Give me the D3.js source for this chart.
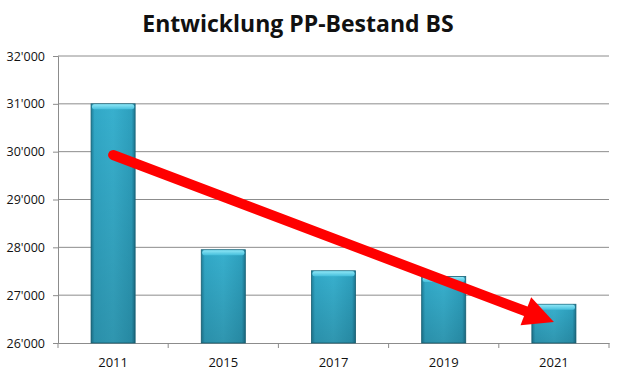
<!DOCTYPE html>
<html>
<head>
<meta charset="utf-8">
<script src="https://cdn.jsdelivr.net/npm/d3@7"></script>
<style>
  body { margin: 0; background: #fff; }
  svg { display: block; font-family: "Open Sans", sans-serif; }
</style>
</head>
<body>
<div id="chart"></div>
<script>
const years = ["2011", "2015", "2017", "2019", "2021"];
const bestand = [31000, 27950, 27510, 27390, 26810];
const yTicks = [26000, 27000, 28000, 29000, 30000, 31000, 32000];
// trend arrow: from year/value to year/value
const arrowFrom = ["2011", 29930];
const arrowTo = ["2021", 26440];

const width = 620;
const height = 375;
const margin = { top: 56, right: 11, bottom: 32, left: 58 };
const innerWidth = width - margin.left - margin.right;
const innerHeight = height - margin.top - margin.bottom;

const svg = d3.select("#chart").append("svg")
  .attr("width", width)
  .attr("height", height);

const defs = svg.append("defs");

// bar body gradient (dark edges, lighter middle)
const gBody = defs.append("linearGradient").attr("id", "barBody")
  .attr("x1", "0").attr("x2", "1").attr("y1", "0").attr("y2", "0");
gBody.append("stop").attr("offset", "0%").attr("stop-color", "#1f7f9a");
gBody.append("stop").attr("offset", "8%").attr("stop-color", "#31a8c7");
gBody.append("stop").attr("offset", "50%").attr("stop-color", "#38b0ce");
gBody.append("stop").attr("offset", "92%").attr("stop-color", "#2da0be");
gBody.append("stop").attr("offset", "100%").attr("stop-color", "#1c7590");

const gShade = defs.append("linearGradient").attr("id", "barShade")
  .attr("x1", "0").attr("x2", "0").attr("y1", "0").attr("y2", "1");
gShade.append("stop").attr("offset", "0%").attr("stop-color", "#000").attr("stop-opacity", 0);
gShade.append("stop").attr("offset", "100%").attr("stop-color", "#000").attr("stop-opacity", 0.15);

const gCap = defs.append("linearGradient").attr("id", "barCap")
  .attr("x1", "0").attr("x2", "0").attr("y1", "0").attr("y2", "1");
gCap.append("stop").attr("offset", "0%").attr("stop-color", "#8ee6f6");
gCap.append("stop").attr("offset", "100%").attr("stop-color", "#45bfdc");

// title
svg.append("text")
  .attr("x", 298)
  .attr("y", 32)
  .attr("text-anchor", "middle")
  .attr("font-size", 23)
  .attr("font-weight", "bold")
  .attr("fill", "#111")
  .text("Entwicklung PP-Bestand BS");

const g = svg.append("g")
  .attr("transform", `translate(${margin.left},${margin.top})`);

const x = d3.scaleBand()
  .domain(years)
  .range([0, innerWidth])
  .paddingInner(0.6)
  .paddingOuter(0.3);

const y = d3.scaleLinear()
  .domain([26000, 32000])
  .range([innerHeight, 0]);

const fmt = (d) => d3.format(",")(d).replace(",", "'");

// gridlines
g.append("g")
  .selectAll("line")
  .data(yTicks.filter((d) => d > 26000))
  .enter()
  .append("line")
  .attr("x1", 0)
  .attr("x2", innerWidth)
  .attr("y1", (d) => y(d))
  .attr("y2", (d) => y(d))
  .attr("stroke", "#8c8c8c")
  .attr("stroke-width", 1);

// y axis
const yAxis = g.append("g")
  .call(d3.axisLeft(y).tickValues(yTicks).tickFormat(fmt).tickSizeOuter(0).tickSize(5));
yAxis.select(".domain").attr("stroke", "#8c8c8c");
yAxis.selectAll(".tick line").attr("stroke", "#8c8c8c");
yAxis.selectAll("text")
  .attr("font-family", "Open Sans")
  .attr("font-size", 12.5)
  .attr("fill", "#111")
  .attr("text-anchor", "end")
  .attr("x", -13);

// x axis with ticks at band boundaries
const xAxis = g.append("g")
  .attr("transform", `translate(0,${innerHeight})`)
  .call(d3.axisBottom(x).tickSize(0).tickSizeOuter(0));
xAxis.select(".domain").attr("stroke", "#8c8c8c");
xAxis.selectAll("text")
  .attr("font-family", "Open Sans")
  .attr("font-size", 13)
  .attr("fill", "#111")
  .attr("dy", "1.6em");

const step = x.step();
const bounds = d3.range(years.length + 1).map((i) => i * step);
xAxis.selectAll(".bound")
  .data(bounds)
  .enter()
  .append("line")
  .attr("class", "bound")
  .attr("x1", (d) => d)
  .attr("x2", (d) => d)
  .attr("y1", 0)
  .attr("y2", 5)
  .attr("stroke", "#8c8c8c");

// bars
const bars = g.append("g")
  .selectAll("g")
  .data(years.map((yr, i) => ({ year: yr, value: bestand[i] })))
  .enter()
  .append("g");

bars.append("rect")
  .attr("x", (d) => x(d.year))
  .attr("y", (d) => y(d.value))
  .attr("width", x.bandwidth())
  .attr("height", (d) => innerHeight - y(d.value))
  .attr("fill", "url(#barBody)")
  .attr("stroke", "#1a6478")
  .attr("stroke-width", 0.8);

bars.append("rect")
  .attr("x", (d) => x(d.year))
  .attr("y", (d) => y(d.value))
  .attr("width", x.bandwidth())
  .attr("height", (d) => innerHeight - y(d.value))
  .attr("fill", "url(#barShade)");

bars.append("rect")
  .attr("x", (d) => x(d.year) + 1)
  .attr("y", (d) => y(d.value) + 0.5)
  .attr("width", x.bandwidth() - 2)
  .attr("height", 5)
  .attr("rx", 2)
  .attr("fill", "url(#barCap)");

// trend arrow
const x1 = x(arrowFrom[0]) + x.bandwidth() / 2;
const y1 = y(arrowFrom[1]);
const x2 = x(arrowTo[0]) + x.bandwidth() / 2;
const y2 = y(arrowTo[1]);
const ang = Math.atan2(y2 - y1, x2 - x1);
const headLen = 30;
const headHalf = 15;
const bx = x2 - headLen * Math.cos(ang);
const by = y2 - headLen * Math.sin(ang);

g.append("line")
  .attr("x1", x1)
  .attr("y1", y1)
  .attr("x2", bx + 2 * Math.cos(ang))
  .attr("y2", by + 2 * Math.sin(ang))
  .attr("stroke", "#ff0000")
  .attr("stroke-width", 10)
  .attr("stroke-linecap", "round");

g.append("path")
  .attr("d", d3.line()([
    [x2, y2],
    [bx + headHalf * Math.sin(ang), by - headHalf * Math.cos(ang)],
    [bx - headHalf * Math.sin(ang), by + headHalf * Math.cos(ang)]
  ]) + "Z")
  .attr("fill", "#ff0000");
</script>
</body>
</html>
